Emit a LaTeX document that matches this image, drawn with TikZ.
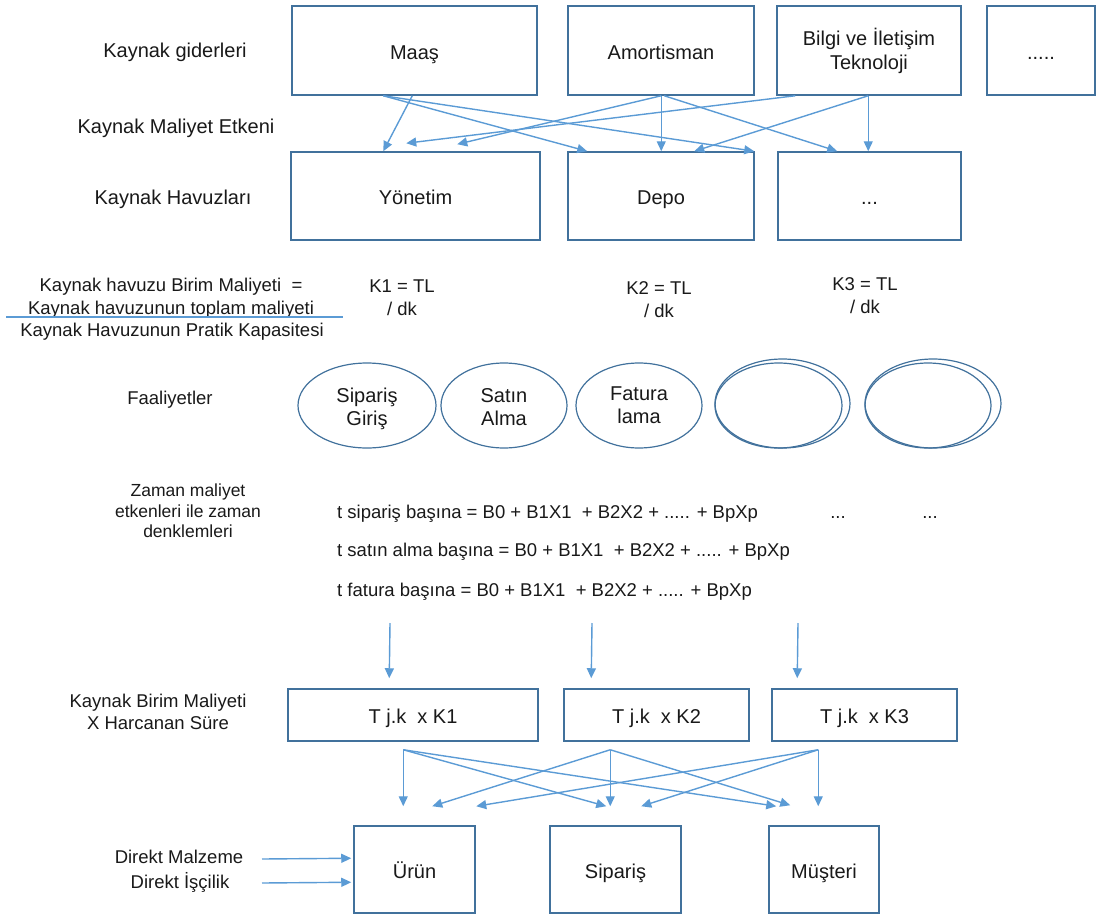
\documentclass[tikz,border=0pt]{standalone}
\usepackage{fontspec}
\setmainfont{Liberation Sans}
\usetikzlibrary{arrows.meta,shapes.geometric,calc}
\definecolor{boxc}{RGB}{65,113,156}
\definecolor{arrc}{RGB}{91,155,213}
\definecolor{txtc}{RGB}{25,25,25}
\newcommand{\twolines}[3]{\raisebox{-#1}{\begin{tabular}{@{}c@{}}#2\\[-1pt]#3\end{tabular}}}
\begin{document}
\begin{tikzpicture}[x=1pt,y=-1pt,
  every node/.style={text=txtc, inner sep=0pt, align=center, font=\fontsize{20}{24}\selectfont},
  rbox/.style={draw=boxc, line width=1.5pt},
  btxt/.style={text height=17pt, text depth=0pt},
  toprow/.style={rbox, minimum height=89pt},
  poolrow/.style={rbox, minimum height=88pt},
  krow/.style={rbox, minimum height=52pt},
  objrow/.style={rbox, minimum height=87pt},
  ell/.style={draw=boxc, line width=1.2pt, ellipse, text height=0pt, text depth=0pt},
  big/.style={font=\fontsize{20}{24}\selectfont, text height=14.3pt, text depth=0pt},
  small/.style={font=\fontsize{18.5}{23}\selectfont, text height=13.2pt, text depth=0pt},
  smallml/.style={font=\fontsize{18.5}{23}\selectfont},
  tiny/.style={font=\fontsize{17.5}{20.5}\selectfont},
  arr/.style={draw=arrc, line width=1.4pt, -{Triangle[length=10pt,width=9pt]}},
  fracline/.style={draw=arrc, line width=1.2pt}
]
\useasboundingbox (0,0) rectangle (1103,918);

% ---------- left labels ----------
\node[big] (lgider) at (175,50.3) {Kaynak giderleri};
\node[big] (letken) at (176,126.7) {Kaynak Maliyet Etkeni};
\node[big] (lhavuz) at (173,197) {Kaynak Havuzları};
\node[small] (lf1) at (171,285) {Kaynak havuzu Birim Maliyeti \ =};
\node[small] (lf2) at (171,308) {Kaynak havuzunun toplam maliyeti};
\node[small] (lf3) at (172,329.5) {Kaynak Havuzunun Pratik Kapasitesi};
\coordinate (fl) at (6,317);
\coordinate (fr) at (343,317);
\draw[fracline] (fl) -- (fr);
\node[small] (lfaal) at (170,398) {Faaliyetler};
\node[tiny] (lzaman) at (188,511) {Zaman maliyet\\etkenleri ile zaman\\denklemleri};
\node[smallml, font=\fontsize{18.5}{22}\selectfont] (lbirim) at (158,712) {Kaynak Birim Maliyeti\\X Harcanan Süre};
\node[small] (ldm) at (179,857) {Direkt Malzeme};
\node[small] (ldi) at (180,882) {Direkt İşçilik};

% ---------- top row ----------
\node[toprow, btxt, minimum width=245pt] (maas) at (414.5,50.5) {Maaş};
\node[toprow, btxt, minimum width=186pt] (amort) at (661,50.5) {Amortisman};
\node[toprow, minimum width=184pt] (bilgi) at (869,50.5) {Bilgi ve İletişim\\Teknoloji};
\node[toprow, btxt, minimum width=108pt] (dots) at (1041,50.5) {.....};

% ---------- pools ----------
\node[poolrow, btxt, minimum width=249pt] (yon) at (415.5,196) {Yönetim};
\node[poolrow, btxt, minimum width=186pt] (depo) at (661,196) {Depo};
\node[poolrow, btxt, minimum width=183pt] (pool3) at (869.5,196) {...};

% ---------- top arrows ----------
\coordinate (m1) at ($(maas.south west)+(121,0)$);
\coordinate (m2) at ($(maas.south west)+(92,0)$);
\coordinate (a1) at ($(amort.south west)+(94,0)$);
\coordinate (a2) at ($(amort.south west)+(97,0)$);
\coordinate (b1) at ($(bilgi.south west)+(19,0)$);
\coordinate (b2) at ($(bilgi.south west)+(92,0)$);
\coordinate (y1) at ($(yon.north west)+(93,0)$);
\coordinate (y2) at ($(yon.north west)+(167,-7)$);
\coordinate (y3) at ($(yon.north west)+(116,-8)$);
\coordinate (d1) at ($(depo.north west)+(20,0)$);
\coordinate (d2) at ($(depo.north west)+(187,0)$);
\coordinate (d3) at ($(depo.north west)+(94,0)$);
\coordinate (d4) at ($(depo.north west)+(127,0)$);
\coordinate (t1) at ($(pool3.north west)+(60,0)$);
\coordinate (t2) at ($(pool3.north west)+(91,0)$);
\draw[arr] (m1) -- (y1);
\draw[arr] (m2) -- (d1);
\draw[arr] (m2) -- (d2);
\draw[arr] (a1) -- (y2);
\draw[arr] (a1) -- (d3);
\draw[arr] (a2) -- (t1);
\draw[arr] (b1) -- (y3);
\draw[arr] (b2) -- (d4);
\draw[arr] (b2) -- (t2);

% ---------- unit costs ----------
\node[smallml] (k1t) at (402,298) {K1 = TL\\/ dk};
\node[smallml] (k2t) at (659,299.5) {K2 = TL\\/ dk};
\node[smallml] (k3t) at (865,296) {K3 = TL\\/ dk};

% ---------- activities ----------
\node[ell, minimum width=138pt, minimum height=85pt] (e1) at (367,405.5) {\twolines{8.4pt}{Sipariş}{Giriş}};
\node[ell, minimum width=126pt, minimum height=85pt] (e2) at (504,405.5) {\twolines{8.4pt}{Satın}{Alma}};
\node[ell, minimum width=126pt, minimum height=85pt] (e3) at (639,405.5) {\twolines{6.4pt}{Fatura}{lama}};
\node[ell, minimum width=135pt, minimum height=89pt] (e4b) at (782.5,403.5) {};
\node[ell, minimum width=127pt, minimum height=85pt] (e4) at (778.5,405.5) {};
\node[ell, minimum width=136pt, minimum height=89pt] (e5b) at (933,403.5) {};
\node[ell, minimum width=126pt, minimum height=85pt] (e5) at (928,405.5) {};

% ---------- time equations ----------
\node[small, anchor=west] (eq1) at (337,512) {t sipariş başına = B0 + B1X1 \ + B2X2 + ..... + BpXp};
\node[small, anchor=west] (eq2) at (337,550) {t satın alma başına = B0 + B1X1 \ + B2X2 + ..... + BpXp};
\node[small, anchor=west] (eq3) at (337,590) {t fatura başına = B0 + B1X1 \ + B2X2 + ..... + BpXp};
\node[small] (eqd1) at (838,512) {...};
\node[small] (eqd2) at (930,512) {...};

% ---------- K boxes ----------
\node[krow, btxt, minimum width=250pt] (k1) at (413,715) {T j.k \ x K1};
\node[krow, btxt, minimum width=185pt] (k2) at (656.5,715) {T j.k \ x K2};
\node[krow, btxt, minimum width=185pt] (k3) at (864.5,715) {T j.k \ x K3};
\coordinate (v1) at (390,623);
\coordinate (v2) at (592,623);
\coordinate (v3) at (798,623);
\draw[arr] (v1) -- ($(k1.north west)+(102,-10)$);
\draw[arr] (v2) -- ($(k2.north west)+(28,-10)$);
\draw[arr] (v3) -- ($(k3.north west)+(26,-10)$);

% ---------- cost objects ----------
\node[objrow, btxt, minimum width=121pt] (urun) at (414.5,869.5) {Ürün};
\node[objrow, btxt, minimum width=131pt] (sip) at (615.5,869.5) {Sipariş};
\node[objrow, btxt, minimum width=110pt] (mus) at (824,869.5) {Müşteri};

\coordinate (s1) at ($(k1.south west)+(116,8)$);
\coordinate (s2) at ($(k2.south west)+(47,8)$);
\coordinate (s3) at ($(k3.south west)+(47,8)$);
\coordinate (u1) at ($(urun.north west)+(50,-19)$);
\coordinate (u2) at ($(urun.north west)+(79,-19)$);
\coordinate (u3) at ($(urun.north west)+(123,-19)$);
\coordinate (p1) at ($(sip.north west)+(57,-19)$);
\coordinate (p2) at ($(sip.north west)+(61,-19)$);
\coordinate (p3) at ($(sip.north west)+(92,-19)$);
\coordinate (q1) at ($(mus.north west)+(8,-19)$);
\coordinate (q2) at ($(mus.north west)+(22,-20)$);
\coordinate (q3) at ($(mus.north west)+(50,-19)$);
\draw[arr] (s1) -- (u1);
\draw[arr] (s1) -- (p1);
\draw[arr] (s1) -- (q1);
\draw[arr] (s2) -- (u2);
\draw[arr] (s2) -- (p2);
\draw[arr] (s2) -- (q2);
\draw[arr] (s3) -- (u3);
\draw[arr] (s3) -- (p3);
\draw[arr] (s3) -- (q3);

% ---------- direct costs ----------
\coordinate (dm0) at (262,859);
\coordinate (di0) at (262,883);
\draw[arr] (dm0) -- ($(urun.north west)+(-2,33)$);
\draw[arr] (di0) -- ($(urun.north west)+(-2,57)$);
\end{tikzpicture}
\end{document}
